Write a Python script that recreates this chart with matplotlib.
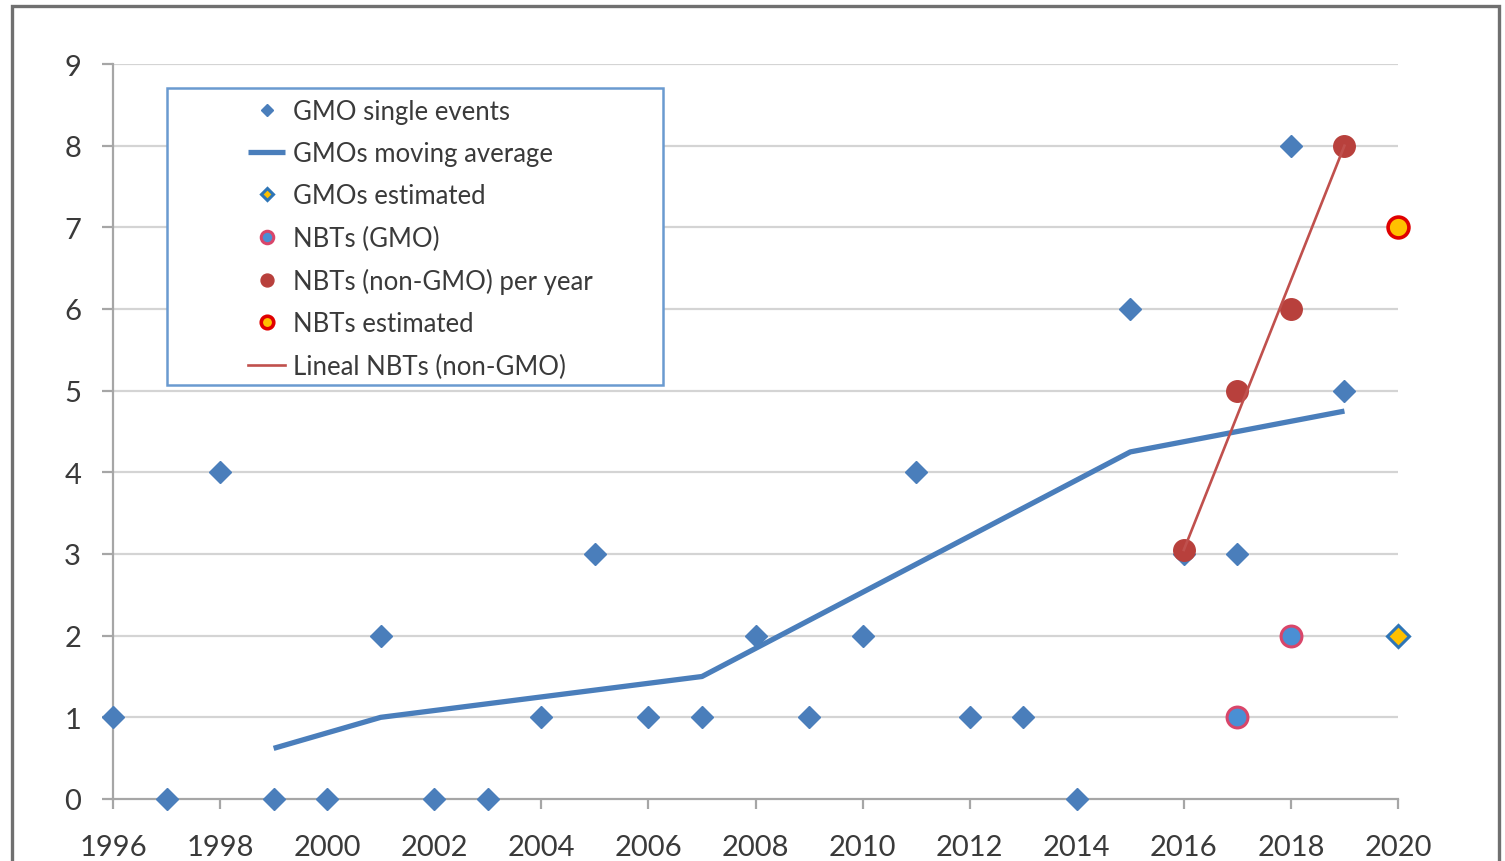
import matplotlib
matplotlib.use("Agg")
import matplotlib.pyplot as plt
from matplotlib.patches import Rectangle

plt.rcParams['font.family'] = ['Lato', 'DejaVu Sans']

# ---- data ----
gmo_years = [1996, 1997, 1998, 1999, 2000, 2001, 2002, 2003, 2004, 2005, 2006, 2007,
             2008, 2009, 2010, 2011, 2012, 2013, 2014, 2015, 2016, 2017, 2018, 2019]
gmo_events = [1, 0, 4, 0, 0, 2, 0, 0, 1, 3, 1, 1,
              2, 1, 2, 4, 1, 1, 0, 6, 3, 3, 8, 5]

ma_years = [1999, 2001, 2007, 2015, 2019]
ma_values = [0.62, 1.0, 1.5, 4.25, 4.75]

gmo_est_years = [2020]
gmo_est_values = [2]

nbt_gmo_years = [2017, 2018]
nbt_gmo_values = [1, 2]

nbt_non_years = [2016, 2017, 2018, 2019]
nbt_non_values = [3.05, 5, 6, 8]

nbt_est_years = [2020]
nbt_est_values = [7]

lin_years = [2016, 2019]
lin_values = [3.05, 8]

x_ticks = list(range(1996, 2021, 2))
y_ticks = list(range(0, 10))

# ---- figure ----
W, H = 1505, 862
fig = plt.figure(figsize=(W / 100, H / 100), dpi=100)
ax = fig.add_axes([113 / W, 1 - 800 / H, (1398 - 113) / W, (800 - 65) / H])

blue = '#4A7EBB'
dred = '#B8403C'
lred = '#C0504D'
grid_c = '#D4D4D4'
axis_c = '#A6A6A6'
txt_c = '#3A3A3A'

ax.set_xlim(1996, 2020)
ax.set_ylim(0, 9)
ax.set_xticks(x_ticks)
ax.set_yticks(y_ticks)

for y in y_ticks[1:]:
    ax.axhline(y, color=grid_c, lw=1.6, zorder=0)

for s in ['top', 'right']:
    ax.spines[s].set_visible(False)
for s in ['left', 'bottom']:
    ax.spines[s].set_color(axis_c)
    ax.spines[s].set_linewidth(1.6)

ax.tick_params(axis='x', direction='out', length=7, width=1.6, color=axis_c,
               labelsize=21, labelcolor=txt_c, pad=18)
ax.tick_params(axis='y', direction='out', length=8, width=1.6, color=axis_c,
               labelsize=21, labelcolor=txt_c, pad=15)

ax.plot(gmo_years, gmo_events, linestyle='none', marker='D', markersize=11,
        color=blue, markeredgecolor=blue, label='GMO single events', clip_on=False, zorder=4)
ax.plot(ma_years, ma_values, color=blue, lw=3.8, label='GMOs moving average', zorder=3,
        solid_capstyle='butt')
ax.plot(gmo_est_years, gmo_est_values, linestyle='none', marker='D', markersize=11,
        markerfacecolor='#FFC000', markeredgecolor='#2E75B6', markeredgewidth=2.2,
        label='GMOs estimated', clip_on=False, zorder=5)
ax.plot(nbt_gmo_years, nbt_gmo_values, linestyle='none', marker='o', markersize=15,
        markerfacecolor='#4A8FD4', markeredgecolor='#D9466A', markeredgewidth=2.2,
        label='NBTs (GMO)', clip_on=False, zorder=5)
ax.plot(nbt_non_years, nbt_non_values, linestyle='none', marker='o', markersize=15.5,
        color=dred, markeredgecolor=dred, label='NBTs (non-GMO) per year', clip_on=False, zorder=5)
ax.plot(nbt_est_years, nbt_est_values, linestyle='none', marker='o', markersize=15,
        markerfacecolor='#FFC000', markeredgecolor='#E00000', markeredgewidth=2.6,
        label='NBTs estimated', clip_on=False, zorder=5)
ax.plot(lin_years, lin_values, color=lred, lw=1.9, label='Lineal NBTs (non-GMO)', zorder=6)

# legend box
fig.patches.append(Rectangle((167 / W, 1 - 386 / H), (663 - 167) / W, (386 - 89) / H,
                             transform=fig.transFigure, facecolor='white',
                             edgecolor='#6A9AD0', lw=1.8, zorder=7))
leg = fig.legend(loc='upper left', bbox_to_anchor=(248 / W, 1 - 100 / H),
                 bbox_transform=fig.transFigure, frameon=False, fontsize=18.5,
                 markerscale=0.6, handlelength=1.45, handletextpad=0.3,
                 labelspacing=0.67, borderpad=0, borderaxespad=0)
for t in leg.get_texts():
    t.set_color(txt_c)
leg.set_zorder(8)

# outer frame
fig.patches.append(Rectangle((12 / W, -0.05), (1499 - 12) / W, 1.05 - 7 / H,
                             transform=fig.transFigure, facecolor='none',
                             edgecolor='#707070', lw=2.4, zorder=10))

fig.savefig('out.png', dpi=100)
